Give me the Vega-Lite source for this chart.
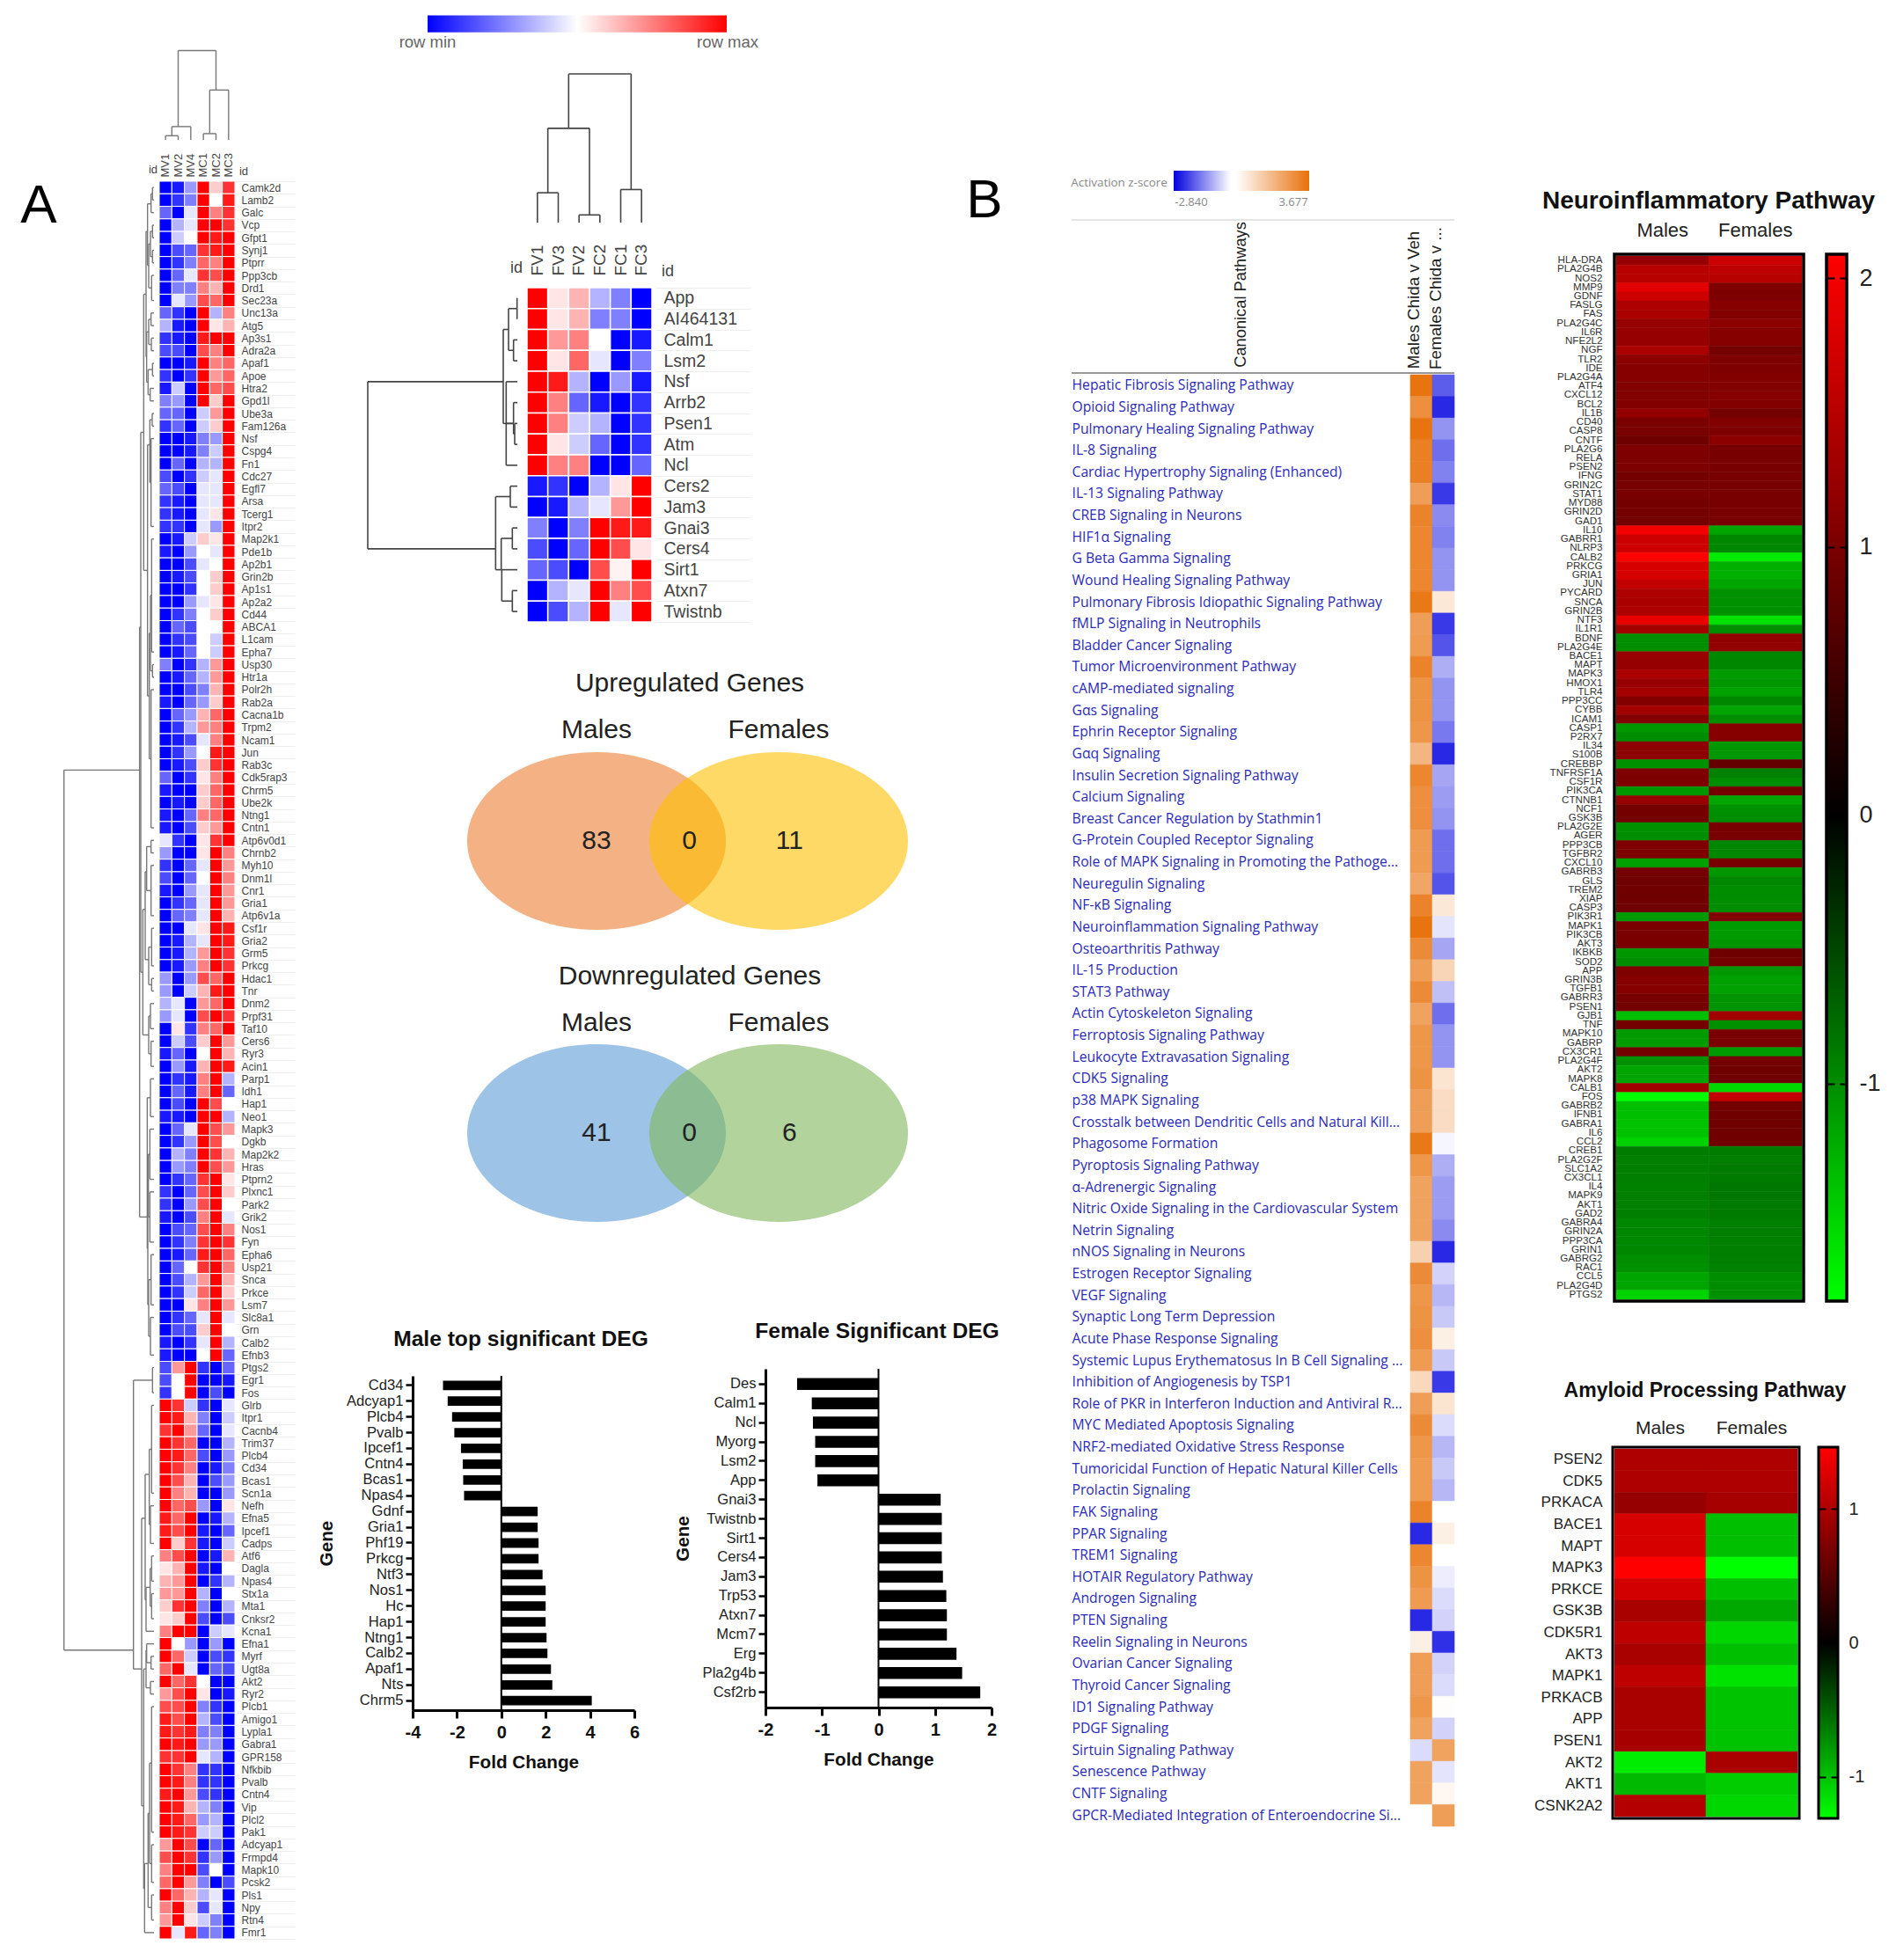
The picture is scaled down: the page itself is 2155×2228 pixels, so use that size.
{"$schema":"https://vega.github.io/schema/vega-lite/v6.json","width":2155,"height":2228,"padding":0,"autosize":{"type":"none"},"background":"#ffffff",
"config":{"view":{"stroke":null},"font":"Liberation Sans","axis":{"grid":false,"domain":false,"ticks":false,"labelOverlap":false,"labelBound":false,"labelFlush":false,"labelLimit":900,"title":null,"labelFont":"Liberation Sans"}},
"resolve":{"scale":{"x":"independent","y":"independent","color":"independent","stroke":"independent"},"axis":{"x":"independent","y":"independent"}},
"datasets":{
"left":[{"g":"Camk2d","MV1":-10,"MV2":-9,"MV4":-4,"MC1":10,"MC2":2,"MC3":8},{"g":"Lamb2","MV1":-10,"MV2":-8,"MV4":-5,"MC1":10,"MC2":0,"MC3":9},{"g":"Galc","MV1":-6,"MV2":-10,"MV4":-1,"MC1":10,"MC2":5,"MC3":8},{"g":"Vcp","MV1":-10,"MV2":-3,"MV4":-1,"MC1":10,"MC2":10,"MC3":8},{"g":"Gfpt1","MV1":-10,"MV2":-2,"MV4":0,"MC1":10,"MC2":9,"MC3":10},{"g":"Synj1","MV1":-10,"MV2":-7,"MV4":-6,"MC1":8,"MC2":9,"MC3":10},{"g":"Ptprr","MV1":-10,"MV2":-8,"MV4":-5,"MC1":6,"MC2":5,"MC3":10},{"g":"Ppp3cb","MV1":-10,"MV2":-6,"MV4":-1,"MC1":8,"MC2":7,"MC3":10},{"g":"Drd1","MV1":-10,"MV2":-5,"MV4":-5,"MC1":5,"MC2":3,"MC3":10},{"g":"Sec23a","MV1":-10,"MV2":-1,"MV4":-4,"MC1":7,"MC2":6,"MC3":10},{"g":"Unc13a","MV1":-6,"MV2":-8,"MV4":-10,"MC1":10,"MC2":-3,"MC3":5},{"g":"Atg5","MV1":-3,"MV2":-9,"MV4":-10,"MC1":10,"MC2":1,"MC3":3},{"g":"Ap3s1","MV1":-8,"MV2":-9,"MV4":-10,"MC1":9,"MC2":10,"MC3":10},{"g":"Adra2a","MV1":-7,"MV2":-7,"MV4":-10,"MC1":7,"MC2":5,"MC3":10},{"g":"Apaf1","MV1":-10,"MV2":-10,"MV4":-9,"MC1":10,"MC2":5,"MC3":6},{"g":"Apoe","MV1":-8,"MV2":-10,"MV4":-8,"MC1":10,"MC2":4,"MC3":6},{"g":"Htra2","MV1":-9,"MV2":-2,"MV4":-10,"MC1":10,"MC2":6,"MC3":7},{"g":"Gpd1l","MV1":-5,"MV2":-4,"MV4":-10,"MC1":10,"MC2":2,"MC3":10},{"g":"Ube3a","MV1":-6,"MV2":-6,"MV4":-10,"MC1":-2,"MC2":4,"MC3":10},{"g":"Fam126a","MV1":-8,"MV2":-6,"MV4":-10,"MC1":-2,"MC2":2,"MC3":10},{"g":"Nsf","MV1":-10,"MV2":-10,"MV4":-9,"MC1":-5,"MC2":-4,"MC3":10},{"g":"Cspg4","MV1":-10,"MV2":-10,"MV4":-9,"MC1":-5,"MC2":-2,"MC3":10},{"g":"Fn1","MV1":-10,"MV2":-6,"MV4":-10,"MC1":-3,"MC2":-3,"MC3":10},{"g":"Cdc27","MV1":-7,"MV2":-10,"MV4":-8,"MC1":-2,"MC2":-1,"MC3":10},{"g":"Egfl7","MV1":-6,"MV2":-7,"MV4":-10,"MC1":-1,"MC2":-1,"MC3":10},{"g":"Arsa","MV1":-8,"MV2":-9,"MV4":-10,"MC1":-1,"MC2":-1,"MC3":10},{"g":"Tcerg1","MV1":-8,"MV2":-9,"MV4":-10,"MC1":-1,"MC2":1,"MC3":10},{"g":"Itpr2","MV1":-8,"MV2":-8,"MV4":-10,"MC1":-1,"MC2":-4,"MC3":10},{"g":"Map2k1","MV1":-10,"MV2":-9,"MV4":-2,"MC1":2,"MC2":1,"MC3":10},{"g":"Pde1b","MV1":-9,"MV2":-10,"MV4":-4,"MC1":0,"MC2":-1,"MC3":10},{"g":"Ap2b1","MV1":-10,"MV2":-10,"MV4":-7,"MC1":-1,"MC2":0,"MC3":10},{"g":"Grin2b","MV1":-10,"MV2":-9,"MV4":-7,"MC1":0,"MC2":2,"MC3":10},{"g":"Ap1s1","MV1":-10,"MV2":-10,"MV4":-8,"MC1":0,"MC2":2,"MC3":10},{"g":"Ap2a2","MV1":-10,"MV2":-10,"MV4":-4,"MC1":-1,"MC2":1,"MC3":10},{"g":"Cd44","MV1":-10,"MV2":-8,"MV4":-5,"MC1":0,"MC2":2,"MC3":10},{"g":"ABCA1","MV1":-10,"MV2":-6,"MV4":-7,"MC1":0,"MC2":0,"MC3":10},{"g":"L1cam","MV1":-10,"MV2":-8,"MV4":-7,"MC1":0,"MC2":-2,"MC3":10},{"g":"Epha7","MV1":-10,"MV2":-9,"MV4":-6,"MC1":0,"MC2":-2,"MC3":10},{"g":"Usp30","MV1":-5,"MV2":-10,"MV4":-8,"MC1":-3,"MC2":4,"MC3":10},{"g":"Htr1a","MV1":-10,"MV2":-9,"MV4":-6,"MC1":-3,"MC2":4,"MC3":10},{"g":"Polr2h","MV1":-10,"MV2":-10,"MV4":-7,"MC1":-5,"MC2":3,"MC3":10},{"g":"Rab2a","MV1":-9,"MV2":-10,"MV4":-6,"MC1":-4,"MC2":2,"MC3":10},{"g":"Cacna1b","MV1":-10,"MV2":-6,"MV4":-4,"MC1":3,"MC2":6,"MC3":10},{"g":"Trpm2","MV1":-10,"MV2":-8,"MV4":-3,"MC1":4,"MC2":5,"MC3":10},{"g":"Ncam1","MV1":-10,"MV2":-9,"MV4":-7,"MC1":-1,"MC2":5,"MC3":10},{"g":"Jun","MV1":-10,"MV2":-8,"MV4":-4,"MC1":0,"MC2":9,"MC3":10},{"g":"Rab3c","MV1":-10,"MV2":-9,"MV4":-7,"MC1":2,"MC2":8,"MC3":10},{"g":"Cdk5rap3","MV1":-6,"MV2":-10,"MV4":-8,"MC1":1,"MC2":5,"MC3":10},{"g":"Chrm5","MV1":-9,"MV2":-10,"MV4":-10,"MC1":2,"MC2":6,"MC3":10},{"g":"Ube2k","MV1":-10,"MV2":-9,"MV4":-10,"MC1":2,"MC2":6,"MC3":10},{"g":"Ntng1","MV1":-9,"MV2":-10,"MV4":-6,"MC1":5,"MC2":6,"MC3":10},{"g":"Cntn1","MV1":-9,"MV2":-10,"MV4":-7,"MC1":2,"MC2":4,"MC3":10},{"g":"Atp6v0d1","MV1":-1,"MV2":-8,"MV4":-10,"MC1":1,"MC2":8,"MC3":10},{"g":"Chrnb2","MV1":-4,"MV2":-10,"MV4":-10,"MC1":1,"MC2":10,"MC3":5},{"g":"Myh10","MV1":-8,"MV2":-10,"MV4":-6,"MC1":-1,"MC2":10,"MC3":4},{"g":"Dnm1l","MV1":-7,"MV2":-10,"MV4":-6,"MC1":0,"MC2":10,"MC3":5},{"g":"Cnr1","MV1":-9,"MV2":-10,"MV4":-4,"MC1":-1,"MC2":10,"MC3":4},{"g":"Gria1","MV1":-10,"MV2":-8,"MV4":-6,"MC1":-1,"MC2":10,"MC3":4},{"g":"Atp6v1a","MV1":-10,"MV2":-6,"MV4":-5,"MC1":-1,"MC2":10,"MC3":3},{"g":"Csf1r","MV1":-10,"MV2":-10,"MV4":-1,"MC1":1,"MC2":10,"MC3":9},{"g":"Gria2","MV1":-10,"MV2":-9,"MV4":-3,"MC1":-1,"MC2":10,"MC3":9},{"g":"Grm5","MV1":-10,"MV2":-9,"MV4":-3,"MC1":4,"MC2":10,"MC3":8},{"g":"Prkcg","MV1":-10,"MV2":-9,"MV4":-4,"MC1":5,"MC2":10,"MC3":8},{"g":"Hdac1","MV1":-4,"MV2":-10,"MV4":-4,"MC1":7,"MC2":6,"MC3":10},{"g":"Tnr","MV1":-4,"MV2":-10,"MV4":-2,"MC1":3,"MC2":9,"MC3":10},{"g":"Dnm2","MV1":-3,"MV2":-1,"MV4":-10,"MC1":4,"MC2":6,"MC3":10},{"g":"Prpf31","MV1":-4,"MV2":-1,"MV4":-10,"MC1":7,"MC2":10,"MC3":8},{"g":"Taf10","MV1":-10,"MV2":1,"MV4":-8,"MC1":5,"MC2":6,"MC3":10},{"g":"Cers6","MV1":-10,"MV2":-2,"MV4":-7,"MC1":2,"MC2":10,"MC3":4},{"g":"Ryr3","MV1":-9,"MV2":-6,"MV4":-10,"MC1":0,"MC2":10,"MC3":3},{"g":"Acin1","MV1":-10,"MV2":-4,"MV4":-9,"MC1":3,"MC2":10,"MC3":9},{"g":"Parp1","MV1":-10,"MV2":-8,"MV4":-9,"MC1":5,"MC2":10,"MC3":-3},{"g":"Idh1","MV1":-10,"MV2":-6,"MV4":-9,"MC1":5,"MC2":10,"MC3":-6},{"g":"Hap1","MV1":-10,"MV2":-7,"MV4":-10,"MC1":10,"MC2":7,"MC3":0},{"g":"Neo1","MV1":-9,"MV2":-9,"MV4":-10,"MC1":10,"MC2":10,"MC3":-3},{"g":"Mapk3","MV1":-10,"MV2":-6,"MV4":-1,"MC1":10,"MC2":7,"MC3":4},{"g":"Dgkb","MV1":-10,"MV2":-8,"MV4":-4,"MC1":10,"MC2":7,"MC3":0},{"g":"Map2k2","MV1":-10,"MV2":-3,"MV4":-5,"MC1":10,"MC2":8,"MC3":3},{"g":"Hras","MV1":-10,"MV2":-4,"MV4":-5,"MC1":10,"MC2":7,"MC3":4},{"g":"Ptprn2","MV1":-10,"MV2":-8,"MV4":-6,"MC1":8,"MC2":10,"MC3":1},{"g":"Plxnc1","MV1":-8,"MV2":-10,"MV4":-6,"MC1":7,"MC2":10,"MC3":2},{"g":"Park2","MV1":-8,"MV2":-10,"MV4":-4,"MC1":7,"MC2":10,"MC3":0},{"g":"Grik2","MV1":-9,"MV2":-10,"MV4":-7,"MC1":5,"MC2":10,"MC3":-1},{"g":"Nos1","MV1":-10,"MV2":-7,"MV4":-6,"MC1":7,"MC2":10,"MC3":5},{"g":"Fyn","MV1":-10,"MV2":-8,"MV4":-5,"MC1":8,"MC2":10,"MC3":8},{"g":"Epha6","MV1":-10,"MV2":-9,"MV4":-6,"MC1":9,"MC2":10,"MC3":6},{"g":"Usp21","MV1":-10,"MV2":-6,"MV4":0,"MC1":8,"MC2":10,"MC3":5},{"g":"Snca","MV1":-10,"MV2":-7,"MV4":-3,"MC1":4,"MC2":10,"MC3":3},{"g":"Prkce","MV1":-10,"MV2":-8,"MV4":-2,"MC1":6,"MC2":10,"MC3":2},{"g":"Lsm7","MV1":-10,"MV2":-10,"MV4":1,"MC1":5,"MC2":10,"MC3":4},{"g":"Slc8a1","MV1":-10,"MV2":-8,"MV4":-6,"MC1":-1,"MC2":10,"MC3":-1},{"g":"Grn","MV1":-10,"MV2":-7,"MV4":-7,"MC1":2,"MC2":10,"MC3":0},{"g":"Calb2","MV1":-9,"MV2":-10,"MV4":-8,"MC1":-1,"MC2":10,"MC3":-3},{"g":"Efnb3","MV1":-9,"MV2":-10,"MV4":-10,"MC1":0,"MC2":10,"MC3":-6},{"g":"Ptgs2","MV1":-7,"MV2":4,"MV4":10,"MC1":-8,"MC2":-10,"MC3":-6},{"g":"Egr1","MV1":-7,"MV2":0,"MV4":10,"MC1":-10,"MC2":-10,"MC3":-9},{"g":"Fos","MV1":-8,"MV2":0,"MV4":10,"MC1":-10,"MC2":-7,"MC3":-10},{"g":"Glrb","MV1":10,"MV2":8,"MV4":-2,"MC1":-8,"MC2":-10,"MC3":-1},{"g":"Itpr1","MV1":10,"MV2":9,"MV4":3,"MC1":-5,"MC2":-10,"MC3":-2},{"g":"Cacnb4","MV1":8,"MV2":10,"MV4":4,"MC1":-6,"MC2":-10,"MC3":-1},{"g":"Trim37","MV1":10,"MV2":8,"MV4":6,"MC1":-10,"MC2":-10,"MC3":-3},{"g":"Plcb4","MV1":10,"MV2":9,"MV4":6,"MC1":-7,"MC2":-10,"MC3":-4},{"g":"Cd34","MV1":10,"MV2":8,"MV4":5,"MC1":-10,"MC2":-9,"MC3":-5},{"g":"Bcas1","MV1":10,"MV2":7,"MV4":3,"MC1":-10,"MC2":-7,"MC3":-4},{"g":"Scn1a","MV1":10,"MV2":5,"MV4":3,"MC1":-10,"MC2":-10,"MC3":-4},{"g":"Nefh","MV1":10,"MV2":6,"MV4":7,"MC1":-4,"MC2":-10,"MC3":1},{"g":"Efna5","MV1":9,"MV2":6,"MV4":10,"MC1":-10,"MC2":-9,"MC3":-3},{"g":"Ipcef1","MV1":9,"MV2":7,"MV4":10,"MC1":-9,"MC2":-10,"MC3":-6},{"g":"Cadps","MV1":10,"MV2":2,"MV4":8,"MC1":-9,"MC2":-10,"MC3":-2},{"g":"Atf6","MV1":5,"MV2":7,"MV4":10,"MC1":-10,"MC2":-9,"MC3":3},{"g":"Dagla","MV1":1,"MV2":3,"MV4":10,"MC1":-9,"MC2":-10,"MC3":0},{"g":"Npas4","MV1":3,"MV2":4,"MV4":10,"MC1":-10,"MC2":-8,"MC3":-3},{"g":"Stx1a","MV1":4,"MV2":4,"MV4":10,"MC1":-3,"MC2":-10,"MC3":0},{"g":"Mta1","MV1":2,"MV2":8,"MV4":10,"MC1":-5,"MC2":-10,"MC3":-3},{"g":"Cnksr2","MV1":1,"MV2":2,"MV4":10,"MC1":-7,"MC2":-10,"MC3":-7},{"g":"Kcna1","MV1":5,"MV2":10,"MV4":10,"MC1":-10,"MC2":-2,"MC3":-1},{"g":"Efna1","MV1":10,"MV2":0,"MV4":-4,"MC1":-10,"MC2":-4,"MC3":-10},{"g":"Myrf","MV1":10,"MV2":6,"MV4":-2,"MC1":-10,"MC2":-7,"MC3":-8},{"g":"Ugt8a","MV1":6,"MV2":10,"MV4":-1,"MC1":-10,"MC2":-6,"MC3":-7},{"g":"Akt2","MV1":10,"MV2":6,"MV4":8,"MC1":0,"MC2":-10,"MC3":-10},{"g":"Ryr2","MV1":4,"MV2":7,"MV4":10,"MC1":1,"MC2":-10,"MC3":-9},{"g":"Plcb1","MV1":7,"MV2":7,"MV4":10,"MC1":-5,"MC2":-8,"MC3":-10},{"g":"Amigo1","MV1":9,"MV2":7,"MV4":10,"MC1":-3,"MC2":-7,"MC3":-10},{"g":"Lypla1","MV1":9,"MV2":8,"MV4":9,"MC1":-5,"MC2":-5,"MC3":-10},{"g":"Gabra1","MV1":10,"MV2":9,"MV4":10,"MC1":-4,"MC2":-4,"MC3":-10},{"g":"GPR158","MV1":8,"MV2":8,"MV4":10,"MC1":-1,"MC2":-3,"MC3":-10},{"g":"Nfkbib","MV1":10,"MV2":8,"MV4":5,"MC1":-8,"MC2":-8,"MC3":-10},{"g":"Pvalb","MV1":10,"MV2":9,"MV4":5,"MC1":-8,"MC2":-8,"MC3":-10},{"g":"Cntn4","MV1":9,"MV2":10,"MV4":4,"MC1":-7,"MC2":-8,"MC3":-10},{"g":"Vip","MV1":10,"MV2":9,"MV4":3,"MC1":-3,"MC2":-5,"MC3":-10},{"g":"Plcl2","MV1":10,"MV2":9,"MV4":6,"MC1":-4,"MC2":-3,"MC3":-10},{"g":"Pak1","MV1":10,"MV2":9,"MV4":8,"MC1":-2,"MC2":-2,"MC3":-10},{"g":"Adcyap1","MV1":4,"MV2":10,"MV4":7,"MC1":-10,"MC2":-6,"MC3":-10},{"g":"Frmpd4","MV1":7,"MV2":10,"MV4":8,"MC1":-8,"MC2":-4,"MC3":-10},{"g":"Mapk10","MV1":5,"MV2":10,"MV4":10,"MC1":-7,"MC2":0,"MC3":-10},{"g":"Pcsk2","MV1":6,"MV2":10,"MV4":4,"MC1":-5,"MC2":-10,"MC3":-7},{"g":"Pls1","MV1":10,"MV2":6,"MV4":3,"MC1":-3,"MC2":-1,"MC3":-10},{"g":"Npy","MV1":5,"MV2":10,"MV4":2,"MC1":-7,"MC2":-1,"MC3":-10},{"g":"Rtn4","MV1":4,"MV2":10,"MV4":1,"MC1":-2,"MC2":-5,"MC3":-10},{"g":"Fmr1","MV1":10,"MV2":-1,"MV4":9,"MC1":-6,"MC2":-5,"MC3":-10}],
"mid":[{"g":"App","FV1":10,"FV3":1,"FV2":3,"FC2":-3,"FC1":-5,"FC3":-10},{"g":"AI464131","FV1":10,"FV3":1,"FV2":3,"FC2":-5,"FC1":-5,"FC3":-10},{"g":"Calm1","FV1":10,"FV3":4,"FV2":5,"FC2":0,"FC1":-10,"FC3":-9},{"g":"Lsm2","FV1":10,"FV3":1,"FV2":6,"FC2":-1,"FC1":-10,"FC3":-5},{"g":"Nsf","FV1":10,"FV3":9,"FV2":-3,"FC2":-10,"FC1":-4,"FC3":-9},{"g":"Arrb2","FV1":10,"FV3":5,"FV2":-6,"FC2":-9,"FC1":-10,"FC3":-8},{"g":"Psen1","FV1":10,"FV3":5,"FV2":-2,"FC2":-3,"FC1":-10,"FC3":-8},{"g":"Atm","FV1":10,"FV3":1,"FV2":-2,"FC2":-6,"FC1":-10,"FC3":-8},{"g":"Ncl","FV1":10,"FV3":5,"FV2":5,"FC2":-10,"FC1":-10,"FC3":-6},{"g":"Cers2","FV1":-9,"FV3":-8,"FV2":-10,"FC2":-3,"FC1":1,"FC3":10},{"g":"Jam3","FV1":-10,"FV3":-9,"FV2":-3,"FC2":-1,"FC1":4,"FC3":10},{"g":"Gnai3","FV1":-5,"FV3":-10,"FV2":-5,"FC2":10,"FC1":9,"FC3":9},{"g":"Cers4","FV1":-7,"FV3":-10,"FV2":-6,"FC2":10,"FC1":7,"FC3":1},{"g":"Sirt1","FV1":-6,"FV3":-7,"FV2":-10,"FC2":7,"FC1":0.5,"FC3":10},{"g":"Atxn7","FV1":-10,"FV3":-3,"FV2":-1,"FC2":10,"FC1":5,"FC3":7},{"g":"Twistnb","FV1":-10,"FV3":-7,"FV2":-3,"FC2":10,"FC1":-1,"FC3":10}],
"dl":[{"h":5,"a":0.5,"b":1.5,"p":0,"q":0},{"h":10,"a":1,"b":2.5,"p":5,"q":0},{"h":5,"a":3.5,"b":4.5,"p":0,"q":0},{"h":5,"a":5.5,"b":6.5,"p":0,"q":0},{"h":12,"a":4,"b":6,"p":5,"q":5},{"h":8,"a":7.5,"b":9.5,"p":0,"q":0},{"h":18,"a":5,"b":8.5,"p":12,"q":8},{"h":22,"a":1.8,"b":6.7,"p":10,"q":18},{"h":10,"a":10.5,"b":11.5,"p":0,"q":0},{"h":9,"a":12.5,"b":13.5,"p":0,"q":0},{"h":18,"a":11,"b":13,"p":10,"q":9},{"h":5,"a":14.5,"b":15.5,"p":0,"q":0},{"h":13,"a":16.5,"b":17.5,"p":0,"q":0},{"h":20,"a":15,"b":17,"p":5,"q":13},{"h":25,"a":12,"b":16,"p":18,"q":20},{"h":27,"a":4,"b":14,"p":22,"q":25},{"h":6,"a":18.5,"b":19.5,"p":0,"q":0},{"h":10,"a":20.5,"b":27.5,"p":0,"q":0},{"h":14,"a":19,"b":24,"p":6,"q":10},{"h":8,"a":28.5,"b":37.5,"p":0,"q":0},{"h":5,"a":38.5,"b":39.5,"p":0,"q":0},{"h":12,"a":33,"b":39,"p":8,"q":5},{"h":10,"a":40.5,"b":51.5,"p":0,"q":0},{"h":16,"a":36,"b":46,"p":12,"q":10},{"h":22,"a":21,"b":41,"p":14,"q":16},{"h":35,"a":9,"b":31,"p":27,"q":22},{"h":10,"a":52.5,"b":53.5,"p":0,"q":0},{"h":10,"a":54.5,"b":58.5,"p":0,"q":0},{"h":25,"a":53,"b":56.5,"p":10,"q":10},{"h":8,"a":59.5,"b":62.5,"p":0,"q":0},{"h":8,"a":63.5,"b":64.5,"p":0,"q":0},{"h":18,"a":61,"b":64,"p":8,"q":8},{"h":30,"a":55,"b":62,"p":25,"q":18},{"h":12,"a":65.5,"b":67.5,"p":0,"q":0},{"h":10,"a":68.5,"b":70.5,"p":0,"q":0},{"h":18,"a":66.5,"b":69.5,"p":12,"q":10},{"h":38,"a":58,"b":68,"p":30,"q":18},{"h":45,"a":20,"b":63,"p":35,"q":38},{"h":12,"a":71.5,"b":74.5,"p":0,"q":0},{"h":14,"a":75.5,"b":79.5,"p":0,"q":0},{"h":14,"a":80.5,"b":84.5,"p":0,"q":0},{"h":19,"a":77.5,"b":82.5,"p":14,"q":14},{"h":10,"a":85.5,"b":89.5,"p":0,"q":0},{"h":12,"a":90.5,"b":93.5,"p":0,"q":0},{"h":18,"a":87.5,"b":92,"p":10,"q":12},{"h":21,"a":80,"b":89.5,"p":19,"q":18},{"h":23,"a":73,"b":85,"p":12,"q":21},{"h":49,"a":35.5,"b":82.5,"p":45,"q":23},{"h":5,"a":94.5,"b":96.5,"p":0,"q":0},{"h":8,"a":97.5,"b":104.5,"p":0,"q":0},{"h":12,"a":105.5,"b":108.5,"p":0,"q":0},{"h":16,"a":101,"b":107,"p":8,"q":12},{"h":8,"a":109.5,"b":111.5,"p":0,"q":0},{"h":8,"a":112.5,"b":114.5,"p":0,"q":0},{"h":13,"a":110.5,"b":113.5,"p":8,"q":8},{"h":27,"a":112,"b":115.5,"p":13,"q":0},{"h":30,"a":103,"b":113,"p":16,"q":27},{"h":10,"a":117.5,"b":118.5,"p":0,"q":0},{"h":25,"a":116.5,"b":118,"p":0,"q":10},{"h":12,"a":119.5,"b":120.5,"p":0,"q":0},{"h":27,"a":117,"b":120,"p":25,"q":12},{"h":8,"a":121.5,"b":131.5,"p":0,"q":0},{"h":8,"a":132.5,"b":135.5,"p":0,"q":0},{"h":15,"a":126,"b":134,"p":8,"q":8},{"h":8,"a":136.5,"b":138.5,"p":0,"q":0},{"h":20,"a":130,"b":137.5,"p":15,"q":8},{"h":32,"a":134,"b":139.5,"p":20,"q":0},{"h":35,"a":118.5,"b":136,"p":27,"q":32},{"h":42,"a":106.5,"b":129.4,"p":30,"q":35},{"h":70,"a":95.5,"b":118.5,"p":5,"q":42},{"h":307,"a":46.9,"b":117,"p":49,"q":70}],
"dt":[{"h":10,"a":0.5,"b":1.5,"p":0,"q":0},{"h":32,"a":1,"b":2.5,"p":10,"q":0},{"h":15,"a":3.5,"b":4.5,"p":0,"q":0},{"h":120,"a":4,"b":5.5,"p":15,"q":0},{"h":215,"a":1.5,"b":4.5,"p":32,"q":120}],
"mt":[{"h":74,"a":0.5,"b":1.5,"p":0,"q":0},{"h":19,"a":2.5,"b":3.5,"p":0,"q":0},{"h":234,"a":1,"b":3,"p":74,"q":19},{"h":82,"a":4.5,"b":5.5,"p":0,"q":0},{"h":369,"a":2,"b":5,"p":234,"q":82}],
"ml":[{"h":1,"a":0.5,"b":1.5,"p":0,"q":0},{"h":13,"a":2.5,"b":3.5,"p":0,"q":0},{"h":30,"a":1,"b":3,"p":1,"q":13},{"h":9,"a":6.5,"b":7.5,"p":0,"q":0},{"h":13,"a":5.5,"b":7,"p":0,"q":9},{"h":38,"a":4.5,"b":8.5,"p":0,"q":0},{"h":38,"a":6.5,"b":6.5,"p":13,"q":13},{"h":48,"a":2,"b":6.5,"p":30,"q":38},{"h":24,"a":9.5,"b":10.5,"p":0,"q":0},{"h":17,"a":11.5,"b":12.5,"p":0,"q":0},{"h":17,"a":14.5,"b":15.5,"p":0,"q":0},{"h":53,"a":13.5,"b":15,"p":0,"q":17},{"h":55,"a":12,"b":13.5,"p":17,"q":53},{"h":74,"a":10,"b":13.5,"p":24,"q":55},{"h":510,"a":4.5,"b":12.5,"p":48,"q":74}],
"path":[{"g":"Hepatic Fibrosis Signaling Pathway","M":3.6,"F":-1.8},{"g":"Opioid Signaling Pathway","M":2.9,"F":-2.4},{"g":"Pulmonary Healing Signaling Pathway","M":3.6,"F":-1.2},{"g":"IL-8 Signaling","M":3.3,"F":-1.6},{"g":"Cardiac Hypertrophy Signaling (Enhanced)","M":3.3,"F":-1.4},{"g":"IL-13 Signaling Pathway","M":2.5,"F":-2.2},{"g":"CREB Signaling in Neurons","M":3.2,"F":-1.3},{"g":"HIF1α Signaling","M":3.1,"F":-1.4},{"g":"G Beta Gamma Signaling","M":3.1,"F":-1.2},{"g":"Wound Healing Signaling Pathway","M":3.1,"F":-1.2},{"g":"Pulmonary Fibrosis Idiopathic Signaling Pathway","M":3.5,"F":0.6},{"g":"fMLP Signaling in Neutrophils","M":2.5,"F":-2.2},{"g":"Bladder Cancer Signaling","M":2.6,"F":-1.9},{"g":"Tumor Microenvironment Pathway","M":3.2,"F":-0.9},{"g":"cAMP-mediated signaling","M":2.8,"F":-1.2},{"g":"Gαs Signaling","M":2.8,"F":-1.2},{"g":"Ephrin Receptor Signaling","M":2.7,"F":-1.5},{"g":"Gαq Signaling","M":1.9,"F":-2.4},{"g":"Insulin Secretion Signaling Pathway","M":3.1,"F":-1},{"g":"Calcium Signaling","M":2.9,"F":-1.1},{"g":"Breast Cancer Regulation by Stathmin1","M":2.9,"F":-1.2},{"g":"G-Protein Coupled Receptor Signaling","M":2.6,"F":-1.6},{"g":"Role of MAPK Signaling in Promoting the Pathoge...","M":2.6,"F":-1.6},{"g":"Neuregulin Signaling","M":2.3,"F":-1.9},{"g":"NF-κB Signaling","M":3.2,"F":0.6},{"g":"Neuroinflammation Signaling Pathway","M":3.6,"F":-0.3},{"g":"Osteoarthritis Pathway","M":3,"F":-1},{"g":"IL-15 Production","M":2.5,"F":1.1},{"g":"STAT3 Pathway","M":3,"F":-0.7},{"g":"Actin Cytoskeleton Signaling","M":2.4,"F":-1.6},{"g":"Ferroptosis Signaling Pathway","M":2.7,"F":-1.2},{"g":"Leukocyte Extravasation Signaling","M":2.7,"F":-1.2},{"g":"CDK5 Signaling","M":2.8,"F":0.7},{"g":"p38 MAPK Signaling","M":2.5,"F":0.9},{"g":"Crosstalk between Dendritic Cells and Natural Kill...","M":2.5,"F":0.9},{"g":"Phagosome Formation","M":3.5,"F":-0.1},{"g":"Pyroptosis Signaling Pathway","M":2.7,"F":-0.9},{"g":"α-Adrenergic Signaling","M":2.4,"F":-1.1},{"g":"Nitric Oxide Signaling in the Cardiovascular System","M":2.4,"F":-1.1},{"g":"Netrin Signaling","M":2.4,"F":-1.3},{"g":"nNOS Signaling in Neurons","M":1.2,"F":-2.4},{"g":"Estrogen Receptor Signaling","M":3,"F":-0.5},{"g":"VEGF Signaling","M":2.7,"F":-0.8},{"g":"Synaptic Long Term Depression","M":2.8,"F":-0.6},{"g":"Acute Phase Response Signaling","M":2.9,"F":0.4},{"g":"Systemic Lupus Erythematosus In B Cell Signaling ...","M":2.6,"F":-0.6},{"g":"Inhibition of Angiogenesis by TSP1","M":1,"F":-2.2},{"g":"Role of PKR in Interferon Induction and Antiviral R...","M":2.5,"F":0.7},{"g":"MYC Mediated Apoptosis Signaling","M":3,"F":-0.4},{"g":"NRF2-mediated Oxidative Stress Response","M":2.7,"F":-0.8},{"g":"Tumoricidal Function of Hepatic Natural Killer Cells","M":2.6,"F":-0.6},{"g":"Prolactin Signaling","M":2.6,"F":-0.8},{"g":"FAK Signaling","M":3.2,"F":0},{"g":"PPAR Signaling","M":-2.4,"F":0.4},{"g":"TREM1 Signaling","M":3.1,"F":0},{"g":"HOTAIR Regulatory Pathway","M":2.8,"F":-0.2},{"g":"Androgen Signaling","M":2.6,"F":-0.4},{"g":"PTEN Signaling","M":-2.4,"F":-0.5},{"g":"Reelin Signaling in Neurons","M":0.4,"F":-2.3},{"g":"Ovarian Cancer Signaling","M":2.5,"F":-0.5},{"g":"Thyroid Cancer Signaling","M":2.5,"F":-0.4},{"g":"ID1 Signaling Pathway","M":2.7,"F":0.05},{"g":"PDGF Signaling","M":2.4,"F":-0.5},{"g":"Sirtuin Signaling Pathway","M":-0.4,"F":2.4},{"g":"Senescence Pathway","M":2.4,"F":-0.3},{"g":"CNTF Signaling","M":2.4,"F":0.2},{"g":"GPCR-Mediated Integration of Enteroendocrine Si...","M":0,"F":2.5}],
"neuro":[{"g":"HLA-DRA","Males":1.23,"Females":1.68},{"g":"PLA2G4B","Males":1.5,"Females":1.55},{"g":"NOS2","Males":1.5,"Females":1.5},{"g":"MMP9","Males":1.85,"Females":1.03},{"g":"GDNF","Males":1.68,"Females":1.03},{"g":"FASLG","Males":1.43,"Females":1.1},{"g":"FAS","Males":1.4,"Females":1.07},{"g":"PLA2G4C","Males":1.23,"Females":1.15},{"g":"IL6R","Males":1.23,"Females":1.1},{"g":"NFE2L2","Males":1.23,"Females":1.1},{"g":"NGF","Males":1.4,"Females":0.95},{"g":"TLR2","Males":1.15,"Females":1.03},{"g":"IDE","Males":1.1,"Females":1.03},{"g":"PLA2G4A","Males":1.1,"Females":1.07},{"g":"ATF4","Males":1.07,"Females":1.07},{"g":"CXCL12","Males":1.07,"Females":1.1},{"g":"BCL2","Males":1.07,"Females":1.07},{"g":"IL1B","Males":1.2,"Females":0.95},{"g":"CD40","Males":1,"Females":1.07},{"g":"CASP8","Males":1,"Females":1.03},{"g":"CNTF","Males":0.9,"Females":1.15},{"g":"PLA2G6","Males":1.03,"Females":0.98},{"g":"RELA","Males":1.03,"Females":0.98},{"g":"PSEN2","Males":1.03,"Females":0.98},{"g":"IFNG","Males":0.95,"Females":0.98},{"g":"GRIN2C","Males":0.98,"Females":0.98},{"g":"STAT1","Males":0.98,"Females":0.98},{"g":"MYD88","Males":0.95,"Females":0.98},{"g":"GRIN2D","Males":0.95,"Females":0.98},{"g":"GAD1","Males":0.95,"Females":0.98},{"g":"IL10","Males":2,"Females":-1.17},{"g":"GABRR1","Males":1.68,"Females":-0.96},{"g":"NLRP3","Males":1.68,"Females":-0.96},{"g":"CALB2","Males":2.09,"Females":-1.67},{"g":"PRKCG","Males":1.76,"Females":-1.24},{"g":"GRIA1","Males":1.76,"Females":-1.24},{"g":"JUN","Males":1.6,"Females":-1.17},{"g":"PYCARD","Males":1.43,"Females":-1.03},{"g":"SNCA","Males":1.4,"Females":-1.03},{"g":"GRIN2B","Males":1.43,"Females":-1.03},{"g":"NTF3","Males":1.93,"Females":-1.6},{"g":"IL1R1","Males":1.35,"Females":-1},{"g":"BDNF","Males":-1,"Females":1.2},{"g":"PLA2G4E","Males":-1,"Females":1.2},{"g":"BACE1","Males":1.23,"Females":-0.96},{"g":"MAPT","Males":1.23,"Females":-0.96},{"g":"MAPK3","Males":1.4,"Females":-1.1},{"g":"HMOX1","Males":1.23,"Females":-1.07},{"g":"TLR4","Males":1.35,"Females":-1.14},{"g":"PPP3CC","Males":1.07,"Females":-0.96},{"g":"CYBB","Males":1.35,"Females":-1.17},{"g":"ICAM1","Males":1.07,"Females":-1},{"g":"CASP1","Males":-1.07,"Females":1.1},{"g":"P2RX7","Males":-1,"Females":1.1},{"g":"IL34","Males":1.15,"Females":-1.07},{"g":"S100B","Males":1.15,"Females":-1.07},{"g":"CREBBP","Males":-1.03,"Females":0.82},{"g":"TNFRSF1A","Males":1.03,"Females":-0.92},{"g":"CSF1R","Males":1.03,"Females":-1},{"g":"PIK3CA","Males":-1.07,"Females":0.95},{"g":"CTNNB1","Males":1.23,"Females":-1.17},{"g":"NCF1","Males":0.95,"Females":-1.03},{"g":"GSK3B","Males":0.95,"Females":-1},{"g":"PLA2G2E","Males":-1.03,"Females":0.98},{"g":"AGER","Males":-1,"Females":0.98},{"g":"PPP3CB","Males":1.03,"Females":-0.96},{"g":"TGFBR2","Males":1.03,"Females":-0.96},{"g":"CXCL10","Males":-1.14,"Females":0.98},{"g":"GABRB3","Males":0.95,"Females":-1.07},{"g":"GLS","Males":0.9,"Females":-0.96},{"g":"TREM2","Males":0.92,"Females":-1},{"g":"XIAP","Males":0.92,"Females":-1},{"g":"CASP3","Males":0.92,"Females":-1},{"g":"PIK3R1","Males":-1.1,"Females":1.07},{"g":"MAPK1","Males":1,"Females":-1.1},{"g":"PIK3CB","Males":1,"Females":-1.1},{"g":"AKT3","Males":1,"Females":-1.05},{"g":"IKBKB","Males":-1.07,"Females":0.9},{"g":"SOD2","Males":-1,"Females":0.95},{"g":"APP","Males":1.03,"Females":-1.07},{"g":"GRIN3B","Males":1.1,"Females":-1.14},{"g":"TGFB1","Males":1.1,"Females":-1.14},{"g":"GABRR3","Males":0.98,"Females":-1.05},{"g":"PSEN1","Males":0.95,"Females":-1.05},{"g":"GJB1","Males":-1.35,"Females":1.31},{"g":"TNF","Males":0.95,"Females":-1.03},{"g":"MAPK10","Males":-1.1,"Females":0.98},{"g":"GABRP","Males":-1.1,"Females":0.98},{"g":"CX3CR1","Males":0.95,"Females":-1.1},{"g":"PLA2G4F","Males":-1.03,"Females":0.95},{"g":"AKT2","Males":-1.17,"Females":0.92},{"g":"MAPK8","Males":-1.17,"Females":0.92},{"g":"CALB1","Males":1.31,"Females":-1.53},{"g":"FOS","Males":-1.81,"Females":1.6},{"g":"GABRB2","Males":-1.35,"Females":0.95},{"g":"IFNB1","Males":-1.35,"Females":0.92},{"g":"GABRA1","Males":-1.38,"Females":0.92},{"g":"IL6","Males":-1.38,"Females":0.92},{"g":"CCL2","Males":-1.49,"Females":0.92},{"g":"CREB1","Males":-0.89,"Females":-0.89},{"g":"PLA2G2F","Males":-0.9,"Females":-0.9},{"g":"SLC1A2","Males":-0.9,"Females":-0.87},{"g":"CX3CL1","Males":-0.9,"Females":-0.87},{"g":"IL4","Males":-0.92,"Females":-0.85},{"g":"MAPK9","Males":-0.9,"Females":-0.85},{"g":"AKT1","Males":-0.92,"Females":-0.87},{"g":"GAD2","Males":-0.9,"Females":-0.87},{"g":"GABRA4","Males":-0.96,"Females":-0.9},{"g":"GRIN2A","Males":-0.96,"Females":-0.9},{"g":"PPP3CA","Males":-0.96,"Females":-0.9},{"g":"GRIN1","Males":-0.96,"Females":-0.9},{"g":"GABRG2","Males":-1,"Females":-0.9},{"g":"RAC1","Males":-1.03,"Females":-0.93},{"g":"CCL5","Males":-1.17,"Females":-1},{"g":"PLA2G4D","Males":-1.17,"Females":-1},{"g":"PTGS2","Males":-1.5,"Females":-1.03}],
"amy":[{"g":"PSEN2","Males":1,"Females":1},{"g":"CDK5","Males":1,"Females":1},{"g":"PRKACA","Males":0.86,"Females":0.95},{"g":"BACE1","Males":1.23,"Females":-0.98},{"g":"MAPT","Males":1.23,"Females":-0.98},{"g":"MAPK3","Males":1.46,"Females":-1.31},{"g":"PRKCE","Males":1.2,"Females":-0.98},{"g":"GSK3B","Males":0.97,"Females":-0.87},{"g":"CDK5R1","Males":1.09,"Females":-1.1},{"g":"AKT3","Males":0.97,"Females":-0.98},{"g":"MAPK1","Males":1.09,"Females":-1.16},{"g":"PRKACB","Males":0.97,"Females":-1},{"g":"APP","Males":0.97,"Females":-1},{"g":"PSEN1","Males":0.95,"Females":-1},{"g":"AKT2","Males":-1.21,"Females":0.97},{"g":"AKT1","Males":-0.95,"Females":-1.05},{"g":"CSNK2A2","Males":1.03,"Females":-1.1}]
},
"layer":[
{"data":{"name":"left"},"transform":[{"fold":["MV1","MV2","MV4","MC1","MC2","MC3"],"as":["s","v"]}],"mark":{"type":"rect","stroke":"#ffffff","strokeWidth":1},"encoding":{"x":{"field":"s","type":"nominal","sort":null,"scale":{"range":[181,267]},"axis":{"orient":"top","offset":-203,"labelAngle":270,"labelFontSize":13,"labelColor":"#444","labelPadding":2}},"y":{"field":"g","type":"nominal","sort":null,"scale":{"range":[206,2204]},"axis":{"orient":"right","offset":-1887,"labelFontSize":12,"labelColor":"#444","ticks":true,"tickBand":"extent","tickSize":67,"tickColor":"#eeeeee","labelPadding":-61}},"color":{"field":"v","type":"quantitative","legend":null,"scale":{"domain":[-10,0,10],"range":["#0000ff","#ffffff","#ff0000"],"interpolate":"rgb"}}}},
{"data":{"name":"mid"},"transform":[{"fold":["FV1","FV3","FV2","FC2","FC1","FC3"],"as":["s","v"]}],"mark":{"type":"rect","stroke":"#ffffff","strokeWidth":1.5},"encoding":{"x":{"field":"s","type":"nominal","sort":null,"scale":{"range":[599,741]},"axis":{"orient":"top","offset":-315,"labelAngle":270,"labelFontSize":19,"labelColor":"#444","labelPadding":2}},"y":{"field":"g","type":"nominal","sort":null,"scale":{"range":[327,707]},"axis":{"orient":"right","offset":-1410,"labelFontSize":19.5,"labelColor":"#444","ticks":true,"tickBand":"extent","tickSize":108,"tickColor":"#eeeeee","labelPadding":-99}},"color":{"field":"v","type":"quantitative","legend":null,"scale":{"domain":[-10,0,10],"range":["#0000ff","#ffffff","#ff0000"],"interpolate":"rgb"}}}},
{"data":{"name":"dl"},"layer":[
{"mark":{"type":"rule","color":"#777","strokeWidth":1.4},"encoding":{"x":{"field":"h","type":"quantitative","axis":null,"scale":{"domain":[0,307],"range":[175,72.7]}},"y":{"field":"a","type":"quantitative","axis":null,"scale":{"domain":[0,140],"range":[206,2204]}},"y2":{"field":"b"}}},
{"mark":{"type":"rule","color":"#777","strokeWidth":1.4},"encoding":{"x":{"field":"p","type":"quantitative","axis":null,"scale":{"domain":[0,307],"range":[175,72.7]}},"x2":{"field":"h"},"y":{"field":"a","type":"quantitative","axis":null,"scale":{"domain":[0,140],"range":[206,2204]}}}},
{"mark":{"type":"rule","color":"#777","strokeWidth":1.4},"encoding":{"x":{"field":"q","type":"quantitative","axis":null,"scale":{"domain":[0,307],"range":[175,72.7]}},"x2":{"field":"h"},"y":{"field":"b","type":"quantitative","axis":null,"scale":{"domain":[0,140],"range":[206,2204]}}}}]},
{"data":{"name":"dt"},"layer":[
{"mark":{"type":"rule","color":"#777","strokeWidth":1.4},"encoding":{"x":{"field":"a","type":"quantitative","axis":null,"scale":{"domain":[0,6],"range":[181,267]}},"x2":{"field":"b"},"y":{"field":"h","type":"quantitative","axis":null,"scale":{"domain":[0,215],"range":[159,57.5]}}}},
{"mark":{"type":"rule","color":"#777","strokeWidth":1.4},"encoding":{"x":{"field":"a","type":"quantitative","axis":null,"scale":{"domain":[0,6],"range":[181,267]}},"y":{"field":"p","type":"quantitative","axis":null,"scale":{"domain":[0,215],"range":[159,57.5]}},"y2":{"field":"h"}}},
{"mark":{"type":"rule","color":"#777","strokeWidth":1.4},"encoding":{"x":{"field":"b","type":"quantitative","axis":null,"scale":{"domain":[0,6],"range":[181,267]}},"y":{"field":"q","type":"quantitative","axis":null,"scale":{"domain":[0,215],"range":[159,57.5]}},"y2":{"field":"h"}}}]},
{"data":{"name":"mt"},"layer":[
{"mark":{"type":"rule","color":"#444","strokeWidth":1.6},"encoding":{"x":{"field":"a","type":"quantitative","axis":null,"scale":{"domain":[0,6],"range":[599,741]}},"x2":{"field":"b"},"y":{"field":"h","type":"quantitative","axis":null,"scale":{"domain":[0,369],"range":[253,84]}}}},
{"mark":{"type":"rule","color":"#444","strokeWidth":1.6},"encoding":{"x":{"field":"a","type":"quantitative","axis":null,"scale":{"domain":[0,6],"range":[599,741]}},"y":{"field":"p","type":"quantitative","axis":null,"scale":{"domain":[0,369],"range":[253,84]}},"y2":{"field":"h"}}},
{"mark":{"type":"rule","color":"#444","strokeWidth":1.6},"encoding":{"x":{"field":"b","type":"quantitative","axis":null,"scale":{"domain":[0,6],"range":[599,741]}},"y":{"field":"q","type":"quantitative","axis":null,"scale":{"domain":[0,369],"range":[253,84]}},"y2":{"field":"h"}}}]},
{"data":{"name":"ml"},"layer":[
{"mark":{"type":"rule","color":"#444","strokeWidth":1.6},"encoding":{"x":{"field":"h","type":"quantitative","axis":null,"scale":{"domain":[0,510],"range":[588,418]}},"y":{"field":"a","type":"quantitative","axis":null,"scale":{"domain":[0,16],"range":[327,707]}},"y2":{"field":"b"}}},
{"mark":{"type":"rule","color":"#444","strokeWidth":1.6},"encoding":{"x":{"field":"p","type":"quantitative","axis":null,"scale":{"domain":[0,510],"range":[588,418]}},"x2":{"field":"h"},"y":{"field":"a","type":"quantitative","axis":null,"scale":{"domain":[0,16],"range":[327,707]}}}},
{"mark":{"type":"rule","color":"#444","strokeWidth":1.6},"encoding":{"x":{"field":"q","type":"quantitative","axis":null,"scale":{"domain":[0,510],"range":[588,418]}},"x2":{"field":"h"},"y":{"field":"b","type":"quantitative","axis":null,"scale":{"domain":[0,16],"range":[327,707]}}}}]},
{"data":{"values":[{"k":"row","lo":-1,"hi":1}]},"mark":{"type":"rect","color":{"gradient":"linear","x1":0,"y1":0,"x2":1,"y2":0,"stops":[{"offset":0,"color":"#0000ff"},{"offset":0.5,"color":"#ffffff"},{"offset":1,"color":"#ff0000"}]}},"encoding":{"x":{"field":"lo","type":"quantitative","axis":null,"scale":{"domain":[-1,1],"range":[486,826]}},"x2":{"field":"hi"},"y":{"field":"k","type":"nominal","axis":null,"scale":{"range":[17.5,36.7]}}}},
{"data":{"values":[{"set":"Males","c":-1,"row":"count"},{"set":"Females","c":1,"row":"count"}]},"mark":{"type":"point","filled":true,"size":86436,"opacity":0.6,"shape":"M-1,0A1,0.687,0,1,1,1,0A1,0.687,0,1,1,-1,0Z"},"encoding":{"x":{"field":"c","type":"quantitative","axis":null,"scale":{"domain":[-1,1],"range":[678,885]}},"y":{"field":"row","type":"nominal","axis":null,"scale":{"type":"point","domain":["header","count"],"range":[830,956],"padding":0}},"color":{"field":"set","type":"nominal","legend":null,"scale":{"domain":["Males","Females"],"range":["#ED7D31","#FFC000"]}}}},
{"data":{"values":[{"set":"Males","c":-1,"row":"count"},{"set":"Females","c":1,"row":"count"}]},"mark":{"type":"point","filled":true,"size":86436,"opacity":0.6,"shape":"M-1,0A1,0.687,0,1,1,1,0A1,0.687,0,1,1,-1,0Z"},"encoding":{"x":{"field":"c","type":"quantitative","axis":null,"scale":{"domain":[-1,1],"range":[678,885]}},"y":{"field":"row","type":"nominal","axis":null,"scale":{"type":"point","domain":["header","count"],"range":[1163,1288],"padding":0}},"color":{"field":"set","type":"nominal","legend":null,"scale":{"domain":["Males","Females"],"range":["#5B9BD5","#7FB85A"]}}}},
{"data":{"values":[{"t":"Males","c":-1,"row":"header"},{"t":"Females","c":1,"row":"header"},{"t":"83","c":-1,"row":"count"},{"t":"0","c":0.02,"row":"count"},{"t":"11","c":1.12,"row":"count"}]},"mark":{"type":"text","fontSize":30,"color":"#222"},"encoding":{"text":{"field":"t"},"x":{"field":"c","type":"quantitative","axis":null,"scale":{"domain":[-1,1],"range":[678,885]}},"y":{"field":"row","type":"nominal","axis":null,"scale":{"type":"point","domain":["header","count"],"range":[830,956],"padding":0}}}},
{"data":{"values":[{"t":"Males","c":-1,"row":"header"},{"t":"Females","c":1,"row":"header"},{"t":"41","c":-1,"row":"count"},{"t":"0","c":0.02,"row":"count"},{"t":"6","c":1.12,"row":"count"}]},"mark":{"type":"text","fontSize":30,"color":"#222"},"encoding":{"text":{"field":"t"},"x":{"field":"c","type":"quantitative","axis":null,"scale":{"domain":[-1,1],"range":[678,885]}},"y":{"field":"row","type":"nominal","axis":null,"scale":{"type":"point","domain":["header","count"],"range":[1163,1288],"padding":0}}}},
{"data":{"values":[{"g":"Cd34","fc":-2.63},{"g":"Adcyap1","fc":-2.42},{"g":"Plcb4","fc":-2.22},{"g":"Pvalb","fc":-2.12},{"g":"Ipcef1","fc":-1.82},{"g":"Cntn4","fc":-1.74},{"g":"Bcas1","fc":-1.72},{"g":"Npas4","fc":-1.68},{"g":"Gdnf","fc":1.64},{"g":"Gria1","fc":1.64},{"g":"Phf19","fc":1.68},{"g":"Prkcg","fc":1.68},{"g":"Ntf3","fc":1.86},{"g":"Nos1","fc":2},{"g":"Hc","fc":2},{"g":"Hap1","fc":2},{"g":"Ntng1","fc":2.04},{"g":"Calb2","fc":2.08},{"g":"Apaf1","fc":2.24},{"g":"Nts","fc":2.3},{"g":"Chrm5","fc":4.08}]},"mark":{"type":"bar","color":"#000"},"encoding":{"x":{"field":"fc","type":"quantitative","scale":{"domain":[-4,6],"range":[469,721]},"axis":{"orient":"bottom","offset":-284,"values":[-4,-2,0,2,4,6],"labelExpr":"''+datum.value","domain":true,"domainColor":"#000","domainWidth":3,"ticks":true,"tickColor":"#000","tickWidth":3,"tickSize":9,"labelFontWeight":"bold","labelFontSize":20,"labelColor":"#111","labelPadding":6,"title":"Fold Change","titleFont":"Liberation Sans","titleFontWeight":"bold","titleFontSize":20.7,"titleColor":"#111","titlePadding":14}},"y":{"field":"g","type":"nominal","sort":null,"scale":{"range":[1564,1944],"paddingInner":0.4,"paddingOuter":0.3},"axis":{"orient":"left","offset":-469,"domain":true,"domainColor":"#000","domainWidth":3,"ticks":true,"tickColor":"#000","tickWidth":2.5,"tickSize":8,"labelFontSize":16.6,"labelColor":"#222","labelPadding":3,"title":"Gene","titleFont":"Liberation Sans","titleFontWeight":"bold","titleFontSize":20.7,"titleColor":"#111","titleX":-88}}}},
{"data":{"values":[{"lo":0,"hi":1,"z":0}]},"mark":{"type":"rule","color":"#000","strokeWidth":2},"encoding":{"x":{"field":"z","type":"quantitative","axis":null,"scale":{"domain":[-4,6],"range":[469,721]}},"y":{"field":"lo","type":"quantitative","axis":null,"scale":{"domain":[0,1],"range":[1564,1944]}},"y2":{"field":"hi"}}},
{"data":{"values":[{"g":"Des","fc":-1.44},{"g":"Calm1","fc":-1.18},{"g":"Ncl","fc":-1.16},{"g":"Myorg","fc":-1.12},{"g":"Lsm2","fc":-1.12},{"g":"App","fc":-1.08},{"g":"Gnai3","fc":1.1},{"g":"Twistnb","fc":1.12},{"g":"Sirt1","fc":1.12},{"g":"Cers4","fc":1.12},{"g":"Jam3","fc":1.14},{"g":"Trp53","fc":1.2},{"g":"Atxn7","fc":1.21},{"g":"Mcm7","fc":1.21},{"g":"Erg","fc":1.38},{"g":"Pla2g4b","fc":1.48},{"g":"Csf2rb","fc":1.8}]},"mark":{"type":"bar","color":"#000"},"encoding":{"x":{"field":"fc","type":"quantitative","scale":{"domain":[-2,2],"range":[870,1127]},"axis":{"orient":"bottom","offset":-287,"values":[-2,-1,0,1,2],"labelExpr":"''+datum.value","domain":true,"domainColor":"#000","domainWidth":3,"ticks":true,"tickColor":"#000","tickWidth":3,"tickSize":9,"labelFontWeight":"bold","labelFontSize":20,"labelColor":"#111","labelPadding":6,"title":"Fold Change","titleFont":"Liberation Sans","titleFontWeight":"bold","titleFontSize":20.7,"titleColor":"#111","titlePadding":14}},"y":{"field":"g","type":"nominal","sort":null,"scale":{"range":[1556,1941],"paddingInner":0.38,"paddingOuter":0.48},"axis":{"orient":"left","offset":-870,"domain":true,"domainColor":"#000","domainWidth":3,"ticks":true,"tickColor":"#000","tickWidth":2.5,"tickSize":8,"labelFontSize":16.6,"labelColor":"#222","labelPadding":3,"title":"Gene","titleFont":"Liberation Sans","titleFontWeight":"bold","titleFontSize":20.7,"titleColor":"#111","titleX":-84}}}},
{"data":{"values":[{"lo":0,"hi":1,"z":0}]},"mark":{"type":"rule","color":"#000","strokeWidth":2},"encoding":{"x":{"field":"z","type":"quantitative","axis":null,"scale":{"domain":[-2,2],"range":[870,1127]}},"y":{"field":"lo","type":"quantitative","axis":null,"scale":{"domain":[0,1],"range":[1556,1941]}},"y2":{"field":"hi"}}},
{"data":{"name":"path"},"transform":[{"fold":["M","F"],"as":["s","v"]}],"mark":{"type":"rect","strokeWidth":0.6},"encoding":{"x":{"field":"s","type":"nominal","sort":null,"axis":null,"scale":{"range":[1603,1653]}},"y":{"field":"g","type":"nominal","sort":null,"scale":{"range":[426,2076]},"axis":{"orient":"left","offset":-1603,"labelAlign":"left","labelPadding":385,"labelFont":"Open Sans","labelFontSize":15.7,"labelColor":"#2a2ab8"}},"color":{"field":"v","type":"quantitative","legend":null,"scale":{"domain":[-2.84,0,3.677],"range":["#0000e0","#ffffff","#e8710a"],"interpolate":"rgb"}},"stroke":{"field":"v","type":"quantitative","legend":null,"scale":{"domain":[-2.84,0,3.677],"range":["#0000e0","#ffffff","#e8710a"],"interpolate":"rgb"}}}},
{"data":{"values":[{"k":"top","lo":0,"hi":1}]},"mark":{"type":"rule","color":"#ddd","strokeWidth":1.5},"encoding":{"x":{"field":"lo","type":"quantitative","axis":null,"scale":{"domain":[0,1],"range":[1218,1653]}},"x2":{"field":"hi"},"y":{"field":"k","type":"nominal","axis":null,"scale":{"type":"point","range":[249,251]}}}},
{"data":{"values":[{"k":"head","lo":0,"hi":1}]},"mark":{"type":"rule","color":"#999","strokeWidth":2},"encoding":{"x":{"field":"lo","type":"quantitative","axis":null,"scale":{"domain":[0,1],"range":[1218,1653]}},"x2":{"field":"hi"},"y":{"field":"k","type":"nominal","axis":null,"scale":{"type":"point","range":[423,425]}}}},
{"data":{"values":[{"k":"z","lo":-2.84,"hi":3.677}]},"mark":{"type":"rect","color":{"gradient":"linear","x1":0,"y1":0,"x2":1,"y2":0,"stops":[{"offset":0,"color":"#0000e0"},{"offset":0.42,"color":"#ffffff"},{"offset":0.46,"color":"#ffffff"},{"offset":1,"color":"#e8710a"}]}},"encoding":{"x":{"field":"lo","type":"quantitative","axis":null,"scale":{"domain":[-2.84,3.677],"range":[1334,1488]}},"x2":{"field":"hi"},"y":{"field":"k","type":"nominal","axis":null,"scale":{"range":[194,217]}}}},
{"data":{"name":"neuro"},"transform":[{"fold":["Males","Females"],"as":["s","v"]}],"mark":{"type":"rect","strokeWidth":0.6},"encoding":{"x":{"field":"s","type":"nominal","sort":null,"scale":{"range":[1837,2048]},"axis":{"orient":"top","offset":-273,"labelFontSize":22,"labelColor":"#222","labelPadding":0,"labelAngle":0}},"y":{"field":"g","type":"nominal","sort":null,"scale":{"range":[291,1477]},"axis":{"orient":"left","offset":-1825,"labelFontSize":11.6,"labelColor":"#333","labelPadding":4}},"color":{"field":"v","type":"quantitative","legend":null,"scale":{"domain":[-1.81,0,2.09],"range":["#00ff00","#000000","#ff0000"],"interpolate":"rgb"}},"stroke":{"field":"v","type":"quantitative","legend":null,"scale":{"domain":[-1.81,0,2.09],"range":["#00ff00","#000000","#ff0000"],"interpolate":"rgb"}}}},
{"data":{"values":[{"k":"frame"}]},"mark":{"type":"rect","fill":null,"stroke":"#000","strokeWidth":3.5},"encoding":{"x":{"field":"k","type":"nominal","axis":null,"scale":{"range":[1835,2050]}},"y":{"field":"k","type":"nominal","axis":null,"scale":{"range":[289,1479]}}}},
{"data":{"values":[{"k":"bar","lo":-1.81,"hi":2.09}]},"mark":{"type":"rect","stroke":"#000","strokeWidth":3.5,"color":{"gradient":"linear","x1":0,"y1":1,"x2":0,"y2":0,"stops":[{"offset":0,"color":"#00ff00"},{"offset":0.464,"color":"#000000"},{"offset":1,"color":"#ff0000"}]}},"encoding":{"x":{"field":"k","type":"nominal","axis":null,"scale":{"range":[2076,2099]}},"y":{"field":"lo","type":"quantitative","scale":{"domain":[-1.81,2.09],"range":[1479,289]},"axis":{"orient":"right","offset":-56,"zindex":1,"values":[2,1,0,-1],"labelExpr":"''+datum.value","ticks":true,"tickSize":-23,"tickColor":"#000","tickWidth":2,"tickDash":[8,6],"labelFontSize":27,"labelColor":"#222","labelPadding":37}},"y2":{"field":"hi"}}},
{"data":{"name":"amy"},"transform":[{"fold":["Males","Females"],"as":["s","v"]}],"mark":{"type":"rect","strokeWidth":0.6},"encoding":{"x":{"field":"s","type":"nominal","sort":null,"scale":{"range":[1835,2043]},"axis":{"orient":"top","offset":-1633,"labelFontSize":21,"labelColor":"#222","labelPadding":0,"labelAngle":0}},"y":{"field":"g","type":"nominal","sort":null,"scale":{"range":[1647,2065]},"axis":{"orient":"left","offset":-1825,"labelFontSize":17,"labelColor":"#222","labelPadding":4}},"color":{"field":"v","type":"quantitative","legend":null,"scale":{"domain":[-1.31,0,1.46],"range":["#00ff00","#000000","#ff0000"],"interpolate":"rgb"}},"stroke":{"field":"v","type":"quantitative","legend":null,"scale":{"domain":[-1.31,0,1.46],"range":["#00ff00","#000000","#ff0000"],"interpolate":"rgb"}}}},
{"data":{"values":[{"k":"frame"}]},"mark":{"type":"rect","fill":null,"stroke":"#000","strokeWidth":3},"encoding":{"x":{"field":"k","type":"nominal","axis":null,"scale":{"range":[1833,2045]}},"y":{"field":"k","type":"nominal","axis":null,"scale":{"range":[1645,2067]}}}},
{"data":{"values":[{"k":"bar","lo":-1.31,"hi":1.46}]},"mark":{"type":"rect","stroke":"#000","strokeWidth":3,"color":{"gradient":"linear","x1":0,"y1":1,"x2":0,"y2":0,"stops":[{"offset":0,"color":"#00ff00"},{"offset":0.473,"color":"#000000"},{"offset":1,"color":"#ff0000"}]}},"encoding":{"x":{"field":"k","type":"nominal","axis":null,"scale":{"range":[2067,2089]}},"y":{"field":"lo","type":"quantitative","scale":{"domain":[-1.31,1.46],"range":[2067,1645]},"axis":{"orient":"right","offset":-66,"zindex":1,"values":[1,0,-1],"labelExpr":"''+datum.value","ticks":true,"tickSize":-22,"tickColor":"#000","tickWidth":2,"tickDash":[8,6],"labelFontSize":20,"labelColor":"#222","labelPadding":34}},"y2":{"field":"hi"}}},
{"data":{"values":[{"t":"A"}]},"mark":{"type":"text","fontSize":62,"color":"#000"},"encoding":{"text":{"field":"t"},"x":{"field":"t","type":"nominal","axis":null,"scale":{"range":[34,54]}},"y":{"field":"t","type":"nominal","axis":null,"scale":{"range":[224,244]}}}},
{"data":{"values":[{"t":"B"}]},"mark":{"type":"text","fontSize":62,"color":"#000"},"encoding":{"text":{"field":"t"},"x":{"field":"t","type":"nominal","axis":null,"scale":{"range":[1109,1129]}},"y":{"field":"t","type":"nominal","axis":null,"scale":{"range":[218,238]}}}},
{"data":{"values":[{"t":"id"}]},"mark":{"type":"text","fontSize":13,"color":"#444"},"encoding":{"text":{"field":"t"},"x":{"field":"t","type":"nominal","axis":null,"scale":{"range":[164,184]}},"y":{"field":"t","type":"nominal","axis":null,"scale":{"range":[183,203]}}}},
{"data":{"values":[{"t":"id"}]},"mark":{"type":"text","fontSize":13,"color":"#444"},"encoding":{"text":{"field":"t"},"x":{"field":"t","type":"nominal","axis":null,"scale":{"range":[267,287]}},"y":{"field":"t","type":"nominal","axis":null,"scale":{"range":[185,205]}}}},
{"data":{"values":[{"t":"id"}]},"mark":{"type":"text","fontSize":18,"color":"#444"},"encoding":{"text":{"field":"t"},"x":{"field":"t","type":"nominal","axis":null,"scale":{"range":[577,597]}},"y":{"field":"t","type":"nominal","axis":null,"scale":{"range":[295,315]}}}},
{"data":{"values":[{"t":"id"}]},"mark":{"type":"text","fontSize":18,"color":"#444"},"encoding":{"text":{"field":"t"},"x":{"field":"t","type":"nominal","axis":null,"scale":{"range":[749,769]}},"y":{"field":"t","type":"nominal","axis":null,"scale":{"range":[299,319]}}}},
{"data":{"values":[{"t":"row min"}]},"mark":{"type":"text","fontSize":18.5,"color":"#666"},"encoding":{"text":{"field":"t"},"x":{"field":"t","type":"nominal","axis":null,"scale":{"range":[476,496]}},"y":{"field":"t","type":"nominal","axis":null,"scale":{"range":[38,58]}}}},
{"data":{"values":[{"t":"row max"}]},"mark":{"type":"text","fontSize":18.5,"color":"#666"},"encoding":{"text":{"field":"t"},"x":{"field":"t","type":"nominal","axis":null,"scale":{"range":[817,837]}},"y":{"field":"t","type":"nominal","axis":null,"scale":{"range":[38,58]}}}},
{"data":{"values":[{"t":"Upregulated Genes"}]},"mark":{"type":"text","fontSize":30,"color":"#222"},"encoding":{"text":{"field":"t"},"x":{"field":"t","type":"nominal","axis":null,"scale":{"range":[774,794]}},"y":{"field":"t","type":"nominal","axis":null,"scale":{"range":[767,787]}}}},
{"data":{"values":[{"t":"Downregulated Genes"}]},"mark":{"type":"text","fontSize":30,"color":"#222"},"encoding":{"text":{"field":"t"},"x":{"field":"t","type":"nominal","axis":null,"scale":{"range":[774,794]}},"y":{"field":"t","type":"nominal","axis":null,"scale":{"range":[1100,1120]}}}},
{"data":{"values":[{"t":"Male top significant DEG"}]},"mark":{"type":"text","fontSize":24.6,"fontWeight":"bold","color":"#111"},"encoding":{"text":{"field":"t"},"x":{"field":"t","type":"nominal","axis":null,"scale":{"range":[582,602]}},"y":{"field":"t","type":"nominal","axis":null,"scale":{"range":[1513,1533]}}}},
{"data":{"values":[{"t":"Female Significant DEG"}]},"mark":{"type":"text","fontSize":24.6,"fontWeight":"bold","color":"#111"},"encoding":{"text":{"field":"t"},"x":{"field":"t","type":"nominal","axis":null,"scale":{"range":[987,1007]}},"y":{"field":"t","type":"nominal","axis":null,"scale":{"range":[1504,1524]}}}},
{"data":{"values":[{"t":"Activation z-score"}]},"mark":{"type":"text","fontSize":13.4,"font":"Open Sans","color":"#888"},"encoding":{"text":{"field":"t"},"x":{"field":"t","type":"nominal","axis":null,"scale":{"range":[1262,1282]}},"y":{"field":"t","type":"nominal","axis":null,"scale":{"range":[198,218]}}}},
{"data":{"values":[{"t":"-2.840"}]},"mark":{"type":"text","fontSize":13,"font":"Open Sans","color":"#888"},"encoding":{"text":{"field":"t"},"x":{"field":"t","type":"nominal","axis":null,"scale":{"range":[1344,1364]}},"y":{"field":"t","type":"nominal","axis":null,"scale":{"range":[220,240]}}}},
{"data":{"values":[{"t":"3.677"}]},"mark":{"type":"text","fontSize":13,"font":"Open Sans","color":"#888"},"encoding":{"text":{"field":"t"},"x":{"field":"t","type":"nominal","axis":null,"scale":{"range":[1460,1480]}},"y":{"field":"t","type":"nominal","axis":null,"scale":{"range":[220,240]}}}},
{"data":{"values":[{"t":"Canonical Pathways"}]},"mark":{"type":"text","fontSize":18.3,"angle":270,"color":"#222"},"encoding":{"text":{"field":"t"},"x":{"field":"t","type":"nominal","axis":null,"scale":{"range":[1401,1421]}},"y":{"field":"t","type":"nominal","axis":null,"scale":{"range":[325,345]}}}},
{"data":{"values":[{"t":"Males Chida v Veh"}]},"mark":{"type":"text","fontSize":18.8,"angle":270,"color":"#222"},"encoding":{"text":{"field":"t"},"x":{"field":"t","type":"nominal","axis":null,"scale":{"range":[1597,1617]}},"y":{"field":"t","type":"nominal","axis":null,"scale":{"range":[331,351]}}}},
{"data":{"values":[{"t":"Females Chida v ..."}]},"mark":{"type":"text","fontSize":18.8,"angle":270,"color":"#222"},"encoding":{"text":{"field":"t"},"x":{"field":"t","type":"nominal","axis":null,"scale":{"range":[1622,1642]}},"y":{"field":"t","type":"nominal","axis":null,"scale":{"range":[329,349]}}}},
{"data":{"values":[{"t":"Neuroinflammatory Pathway"}]},"mark":{"type":"text","fontSize":28,"fontWeight":"bold","color":"#111"},"encoding":{"text":{"field":"t"},"x":{"field":"t","type":"nominal","axis":null,"scale":{"range":[1932,1952]}},"y":{"field":"t","type":"nominal","axis":null,"scale":{"range":[219,239]}}}},
{"data":{"values":[{"t":"Amyloid Processing Pathway"}]},"mark":{"type":"text","fontSize":23,"fontWeight":"bold","color":"#111"},"encoding":{"text":{"field":"t"},"x":{"field":"t","type":"nominal","axis":null,"scale":{"range":[1928,1948]}},"y":{"field":"t","type":"nominal","axis":null,"scale":{"range":[1571,1591]}}}}
]}
